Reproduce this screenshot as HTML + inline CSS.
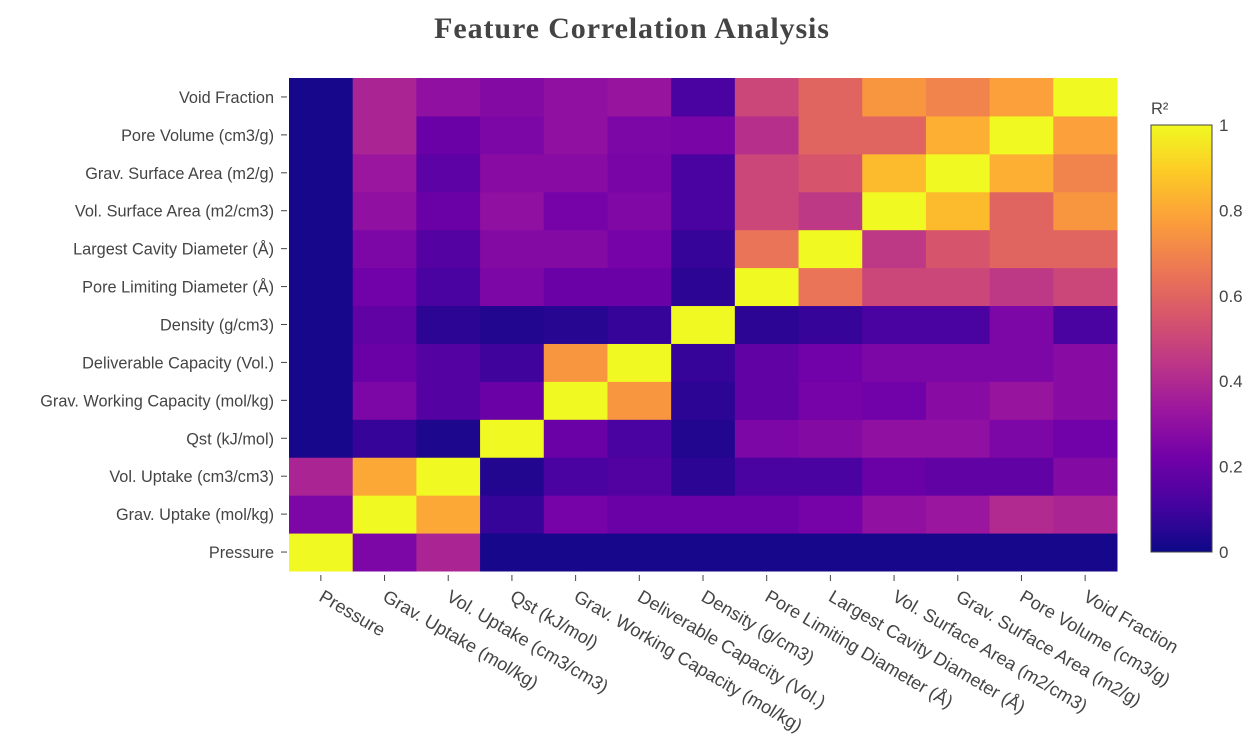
<!DOCTYPE html>
<html><head><meta charset="utf-8"><style>
html,body{margin:0;padding:0;background:#fff;width:1254px;height:750px;overflow:hidden}
text{font-family:"Liberation Sans",sans-serif;fill:#444}
</style></head><body>
<svg id="chart" width="1254" height="750" xmlns="http://www.w3.org/2000/svg">
<text x="632" y="38" text-anchor="middle" style="font-family:'Liberation Serif',serif;font-weight:bold;font-size:30px;letter-spacing:0.9px;fill:#444">Feature Correlation Analysis</text>
<g id="cells"></g><g id="yaxis"></g><g id="xaxis"></g><g id="cbar"></g>
</svg>
<script>
const features = ["Pressure","Grav. Uptake (mol/kg)","Vol. Uptake (cm3/cm3)","Qst (kJ/mol)","Grav. Working Capacity (mol/kg)","Deliverable Capacity (Vol.)","Density (g/cm3)","Pore Limiting Diameter (Å)","Largest Cavity Diameter (Å)","Vol. Surface Area (m2/cm3)","Grav. Surface Area (m2/g)","Pore Volume (cm3/g)","Void Fraction"];
// rows in order of features (bottom to top), columns in order of features
const rowPressure = [1,0.25,0.38,0.02,0.02,0.02,0.02,0.02,0.02,0.02,0.02,0.02,0.02];
const rowGravUptake = [0.25,1,0.8,0.08,0.23,0.2,0.2,0.2,0.23,0.3,0.33,0.4,0.38];
const rowVolUptake = [0.38,0.8,1,0.04,0.12,0.14,0.06,0.12,0.12,0.2,0.18,0.18,0.27];
const rowQst = [0.02,0.08,0.03,1,0.2,0.12,0.04,0.25,0.27,0.3,0.3,0.25,0.22];
const rowGWC = [0.02,0.25,0.15,0.2,1,0.75,0.06,0.18,0.23,0.22,0.28,0.32,0.28];
const rowDC = [0.02,0.2,0.15,0.1,0.75,1,0.08,0.18,0.22,0.25,0.25,0.25,0.28];
const rowDensity = [0.02,0.18,0.06,0.04,0.05,0.08,1,0.06,0.08,0.12,0.12,0.25,0.12];
const rowPLD = [0.02,0.22,0.12,0.25,0.2,0.2,0.06,1,0.65,0.5,0.5,0.45,0.5];
const rowLCD = [0.02,0.25,0.15,0.27,0.27,0.23,0.08,0.65,1,0.45,0.55,0.6,0.6];
const rowVolSA = [0.02,0.3,0.2,0.3,0.23,0.26,0.12,0.5,0.45,1,0.85,0.6,0.75];
const rowGravSA = [0.02,0.33,0.17,0.28,0.28,0.24,0.12,0.5,0.55,0.85,1,0.82,0.7];
const rowPoreVol = [0.02,0.38,0.2,0.25,0.3,0.25,0.24,0.42,0.6,0.6,0.82,1,0.78];
const rowVoidFrac = [0.02,0.38,0.3,0.27,0.3,0.32,0.12,0.5,0.6,0.75,0.7,0.78,1];
const rows = [rowPressure,rowGravUptake,rowVolUptake,rowQst,rowGWC,rowDC,rowDensity,rowPLD,rowLCD,rowVolSA,rowGravSA,rowPoreVol,rowVoidFrac];
const cbTicks = [0,0.2,0.4,0.6,0.8,1];
const cbTickLabels = ["0","0.2","0.4","0.6","0.8","1"];

const NS="http://www.w3.org/2000/svg";
const X0=289,X1=1117,Y0=78,Y1=571,n=features.length;
const cw=(X1-X0)/n, ch=(Y1-Y0)/n;
const xPos=i=>X0+i*cw;
const yPos=r=>Y1-(r+1)*ch;
const stops=['#0d0887','#46039f','#7201a8','#9c179e','#bd3786','#d8576b','#ed7953','#fb9f3a','#fdca26','#f0f921'];
function hex(h){return [1,3,5].map(i=>parseInt(h.substr(i,2),16));}
function plasma(v){v=Math.max(0,Math.min(1,v));const s=v*(stops.length-1);const i=Math.min(Math.floor(s),stops.length-2);const f=s-i;const a=hex(stops[i]),b=hex(stops[i+1]);return 'rgb('+a.map((c,k)=>Math.round(c+(b[k]-c)*f)).join(',')+')';}
function mk(tag,attrs,parent){const e=document.createElementNS(NS,tag);for(const k in attrs)e.setAttribute(k,attrs[k]);parent.appendChild(e);return e;}
const cells=document.getElementById('cells');
rows.forEach((row,r)=>row.forEach((v,c)=>{
  const e=mk('rect',{x:xPos(c),y:yPos(r),width:cw+0.5,height:ch+0.5,fill:plasma(v)},cells);
  
  
}));
const ya=document.getElementById('yaxis'),xa=document.getElementById('xaxis');
features.forEach((f,i)=>{
  const yc=yPos(i)+ch/2;
  mk('line',{x1:281,x2:287,y1:yc,y2:yc,stroke:'#444','stroke-width':1},ya);
  const t=mk('text',{x:274,y:yc+6,'text-anchor':'end','font-size':'16.3'},ya);
  t.textContent=f;
  
  
  const xc=xPos(i)+cw/2;
  mk('line',{x1:xc,x2:xc,y1:575,y2:581,stroke:'#444','stroke-width':1},xa);
  const tx=mk('text',{x:xc-3,y:600,'font-size':'18.2',transform:'rotate(30.5 '+(xc-3)+' 600)'},xa);
  tx.textContent=f;
  
  
});
const cb=document.getElementById('cbar');
const CX=1151,CW=61,CY0=125,CY1=552;
const defs=mk('defs',{},cb);
const lg=mk('linearGradient',{id:'pg',x1:0,y1:1,x2:0,y2:0},defs);
stops.forEach((s,i)=>mk('stop',{offset:i/(stops.length-1),'stop-color':s},lg));
const bar=mk('rect',{x:CX,y:CY0,width:CW,height:CY1-CY0,fill:'url(#pg)',stroke:'#444','stroke-width':1},cb);


const cbt=mk('text',{x:1151,y:114,'font-size':'16.5'},cb);
cbt.textContent='R²';


cbTicks.forEach((v,i)=>{
  const y=CY1-v*(CY1-CY0);
  const t=mk('text',{x:1219,y:y+6,'font-size':'17'},cb);
  t.textContent=cbTickLabels[i];
  
  
});
</script>
</body></html>
